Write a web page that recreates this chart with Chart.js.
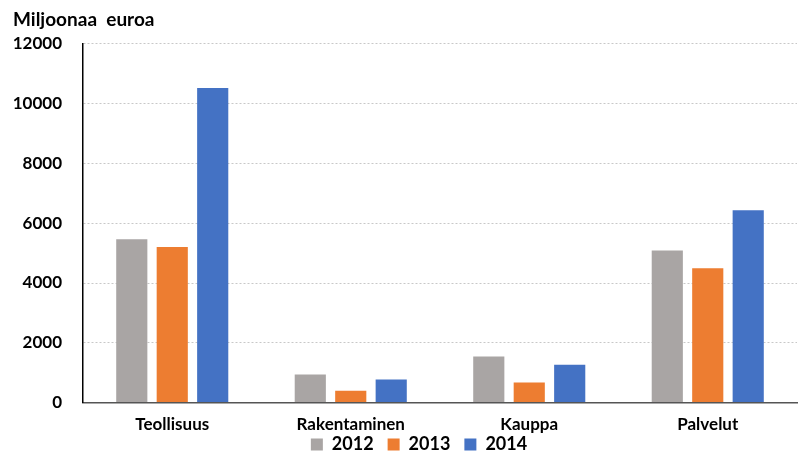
<!DOCTYPE html>
<html>
<head>
<meta charset="utf-8">
<script src="https://cdn.jsdelivr.net/npm/chart.js@4.4.0/dist/chart.umd.min.js"></script>
<style>
    html, body { margin: 0; padding: 0; background: #fff; }
    #wrap { width: 798px; height: 455px; }
</style>
</head>
<body>
<div id="wrap"><canvas id="chart"></canvas></div>
<script>
const categories = ["Teollisuus", "Rakentaminen", "Kauppa", "Palvelut"];
const years = ["2012", "2013", "2014"];
const values2012 = [5460, 940, 1540, 5090];
const values2013 = [5200, 400, 670, 4490];
const values2014 = [10520, 770, 1270, 6430];
const yTicks = [0, 2000, 4000, 6000, 8000, 10000, 12000];
const colors = ["#a9a5a4", "#ed7d31", "#4472c4"];

const fontFamily = "Lato, 'Open Sans', sans-serif";

// squeeze the legend up under the category labels, like the original
const legendTweak = {
    id: 'legendTweak',
    beforeInit: function(chart) {
        let fit = chart.legend.fit;
        chart.legend.fit = function() {
            fit.call(this);
            this.height = 8;
        };
    },
    afterLayout: function(chart) {
        let lg = chart.legend;
        lg.top = chart.scales.x.top + 19;
        lg.bottom = chart.height;
        lg.height = lg.bottom - lg.top;
        lg.left += 14;
        lg.right += 14;
    }
};

document.addEventListener("DOMContentLoaded", function() {
    let context = document.querySelector("#chart").getContext("2d");
    new Chart(context, {
        type: 'bar',
        data: {
            labels: categories,
            datasets: [values2012, values2013, values2014].map(function(data, i) {
                return {
                    label: years[i],
                    data: data,
                    backgroundColor: colors[i],
                    barPercentage: 0.77,
                    categoryPercentage: 0.68
                };
            })
        },
        options: {
            responsive: true,
            maintainAspectRatio: false,
            animation: false,
            layout: { padding: { left: 13, right: 1, top: 6, bottom: 0 } },
            plugins: {
                title: {
                    display: true,
                    text: "Miljoonaa  euroa",
                    align: 'start',
                    color: '#000',
                    font: { family: fontFamily, size: 19, weight: 'bold' },
                    padding: { top: 2, bottom: 13 }
                },
                legend: {
                    position: 'bottom',
                    labels: {
                        color: '#000',
                        boxWidth: 12,
                        boxHeight: 12,
                        padding: 14,
                        font: { family: fontFamily, size: 18, weight: 'bold' }
                    }
                },
                tooltip: { enabled: false }
            },
            scales: {
                x: {
                    grid: { display: false, drawTicks: false },
                    border: { color: '#555', width: 1.5 },
                    afterFit: function(axis) {
                        axis.paddingLeft = 0;
                        axis.paddingRight = 0;
                    },
                    ticks: {
                        color: '#000',
                        padding: 12,
                        maxRotation: 0,
                        font: { family: fontFamily, size: 17, weight: 'bold' }
                    }
                },
                y: {
                    min: 0,
                    max: 12000,
                    afterBuildTicks: function(axis) {
                        axis.ticks = yTicks.map(function(v) { return { value: v }; });
                    },
                    afterFit: function(axis) {
                        axis.width = 70;
                    },
                    grid: {
                        color: '#c8c8c8',
                        drawTicks: false
                    },
                    border: { color: '#000', width: 1.5, dash: [2, 2] },
                    ticks: {
                        color: '#000',
                        padding: 21,
                        font: { family: fontFamily, size: 17, weight: 'bold' },
                        callback: function(value) { return String(value); }
                    }
                }
            }
        },
        plugins: [legendTweak]
    });
});
</script>
</body>
</html>
